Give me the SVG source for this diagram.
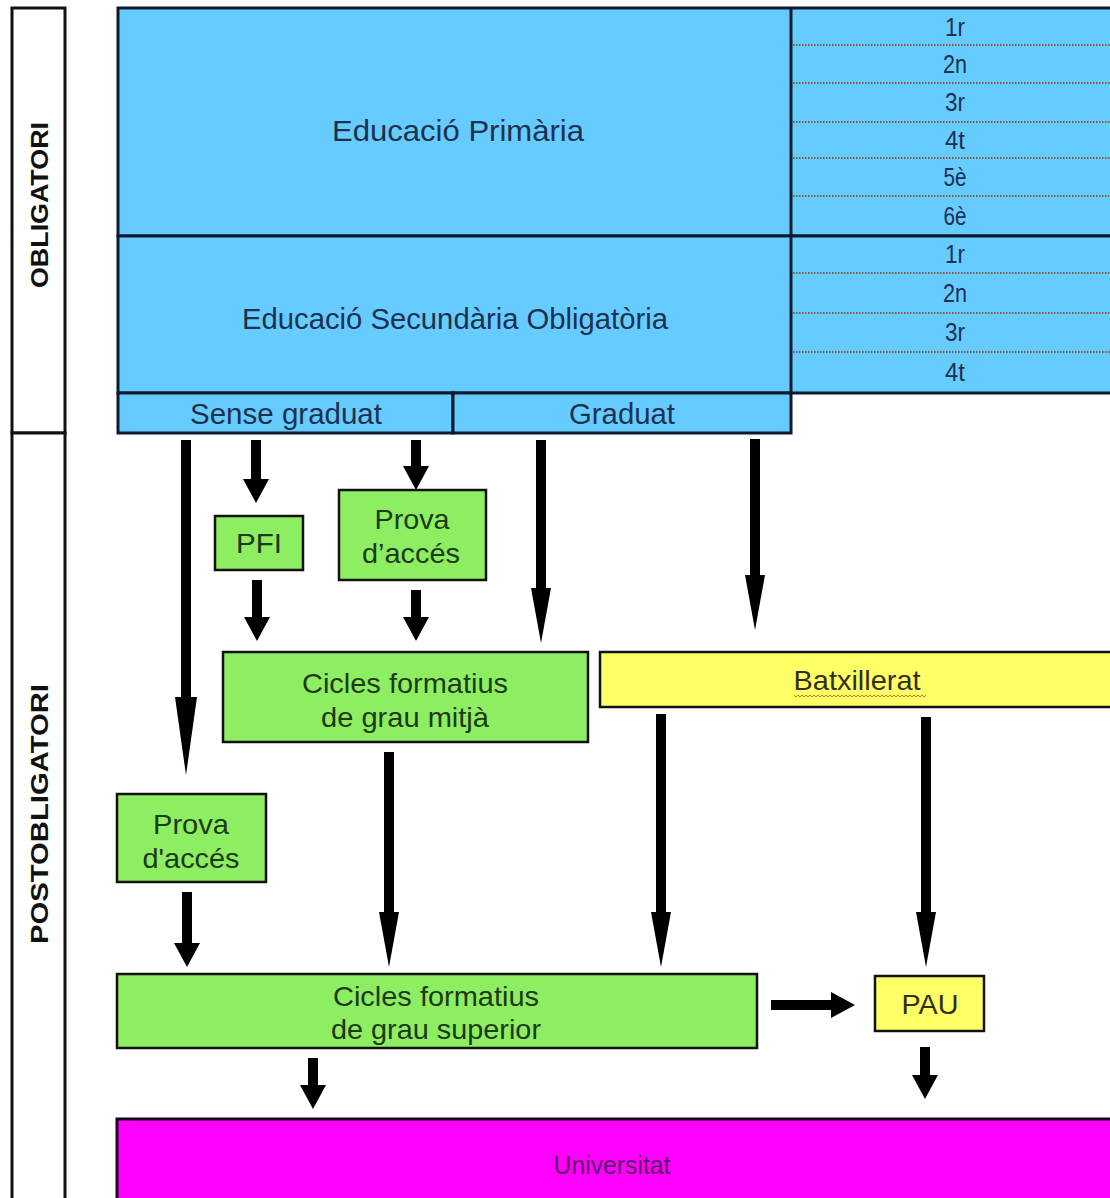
<svg xmlns="http://www.w3.org/2000/svg" width="1110" height="1198" viewBox="0 0 1110 1198">
<defs>
<style>
text{font-family:"Liberation Sans",Arial,sans-serif;text-anchor:middle;}
.side{fill:#ffffff;stroke:#111;stroke-width:3;}
.sidet{font-size:24px;font-weight:bold;fill:#111;}
.blue{fill:#66CCFF;stroke:#0d1a2e;stroke-width:3;}
.bt{fill:#1c3050;font-size:30px;}
.bs{fill:#1c3050;font-size:29px;}
.yr{fill:#1c3050;font-size:25px;}
.dot{stroke:#8a5a40;stroke-width:2;stroke-dasharray:1.5 1.5;fill:none;}
.green{fill:#8EEE62;stroke:#111;stroke-width:2.5;}
.gt{fill:#1d3a16;font-size:28px;}
.yellow{fill:#FFFF66;stroke:#111;stroke-width:2.5;}
.yt{fill:#33300c;font-size:28px;}
.mag{fill:#FF00FF;stroke:#1a0520;stroke-width:3;}
.mt{fill:#5a1a6a;font-size:25px;}
.ar{stroke:#000;stroke-width:10;fill:none;}
</style>
<marker id="hs" viewBox="0 0 24 26" refX="0" refY="13" markerWidth="24" markerHeight="26" markerUnits="userSpaceOnUse" orient="auto"><path d="M0,0 L24,13 L0,26 Z" fill="#000"/></marker>
<marker id="hl" viewBox="0 0 55 20" refX="0" refY="10" markerWidth="55" markerHeight="20" markerUnits="userSpaceOnUse" orient="auto"><path d="M0,0 L55,10 L0,20 Z" fill="#000"/></marker>
<marker id="hx" viewBox="0 0 78 22" refX="0" refY="11" markerWidth="78" markerHeight="22" markerUnits="userSpaceOnUse" orient="auto"><path d="M0,0 L78,11 L0,22 Z" fill="#000"/></marker>
</defs>
<rect width="1110" height="1198" fill="#ffffff"/>

<g id="obligatori">
<rect class="side" x="12" y="8" width="53" height="425"/>
<text class="sidet" transform="translate(48,205) rotate(-90)" textLength="166" lengthAdjust="spacingAndGlyphs">OBLIGATORI</text>
</g>
<g id="postobligatori">
<rect class="side" x="12" y="433" width="53" height="780"/>
<text class="sidet" transform="translate(48,814) rotate(-90)" textLength="260" lengthAdjust="spacingAndGlyphs">POSTOBLIGATORI</text>
</g>

<g id="primaria">
<rect class="blue" x="118" y="8" width="1010" height="228"/>
<line x1="791" y1="8" x2="791" y2="236" stroke="#0d1a2e" stroke-width="3"/>
<text class="bt" x="458" y="141" textLength="252" lengthAdjust="spacingAndGlyphs">Educació Primària</text>
<line class="dot" x1="793" y1="45" x2="1110" y2="45"/>
<line class="dot" x1="793" y1="83" x2="1110" y2="83"/>
<line class="dot" x1="793" y1="122" x2="1110" y2="122"/>
<line class="dot" x1="793" y1="158" x2="1110" y2="158"/>
<line class="dot" x1="793" y1="196" x2="1110" y2="196"/>
<text class="yr" x="955" y="36" textLength="20" lengthAdjust="spacingAndGlyphs">1r</text>
<text class="yr" x="955" y="73" textLength="24" lengthAdjust="spacingAndGlyphs">2n</text>
<text class="yr" x="955" y="111" textLength="20" lengthAdjust="spacingAndGlyphs">3r</text>
<text class="yr" x="955" y="149" textLength="20" lengthAdjust="spacingAndGlyphs">4t</text>
<text class="yr" x="955" y="186" textLength="23" lengthAdjust="spacingAndGlyphs">5è</text>
<text class="yr" x="955" y="225" textLength="23" lengthAdjust="spacingAndGlyphs">6è</text>
</g>

<g id="eso">
<rect class="blue" x="118" y="236" width="1010" height="157"/>
<line x1="791" y1="236" x2="791" y2="393" stroke="#0d1a2e" stroke-width="3"/>
<text class="bt" x="455" y="329" textLength="426" lengthAdjust="spacingAndGlyphs">Educació Secundària Obligatòria</text>
<line class="dot" x1="793" y1="273" x2="1110" y2="273"/>
<line class="dot" x1="793" y1="313" x2="1110" y2="313"/>
<line class="dot" x1="793" y1="352" x2="1110" y2="352"/>
<text class="yr" x="955" y="263" textLength="20" lengthAdjust="spacingAndGlyphs">1r</text>
<text class="yr" x="955" y="302" textLength="24" lengthAdjust="spacingAndGlyphs">2n</text>
<text class="yr" x="955" y="341" textLength="20" lengthAdjust="spacingAndGlyphs">3r</text>
<text class="yr" x="955" y="381" textLength="20" lengthAdjust="spacingAndGlyphs">4t</text>
</g>

<g id="sense-graduat">
<rect class="blue" x="118" y="393" width="335" height="40"/>
<text class="bs" x="286" y="424" textLength="192" lengthAdjust="spacingAndGlyphs">Sense graduat</text>
</g>
<g id="graduat">
<rect class="blue" x="453" y="393" width="338" height="40"/>
<text class="bs" x="622" y="424" textLength="106" lengthAdjust="spacingAndGlyphs">Graduat</text>
</g>

<g id="pfi">
<rect class="green" x="215" y="516" width="88" height="54"/>
<text class="gt" x="259" y="553" textLength="46" lengthAdjust="spacingAndGlyphs">PFI</text>
</g>
<g id="prova1">
<rect class="green" x="339" y="490" width="147" height="90"/>
<text class="gt" x="412" y="529" textLength="75" lengthAdjust="spacingAndGlyphs">Prova</text>
<text class="gt" x="411" y="563" textLength="98" lengthAdjust="spacingAndGlyphs">d’accés</text>
</g>
<g id="cicles-mitja">
<rect class="green" x="223" y="652" width="365" height="90"/>
<text class="gt" x="405" y="693" textLength="206" lengthAdjust="spacingAndGlyphs">Cicles formatius</text>
<text class="gt" x="405" y="727" textLength="168" lengthAdjust="spacingAndGlyphs">de grau mitjà</text>
</g>
<g id="batxillerat">
<rect class="yellow" x="600" y="652" width="530" height="55"/>
<text class="yt" x="857" y="690" textLength="127" lengthAdjust="spacingAndGlyphs">Batxillerat</text>
<path d="M794,695 l2,2 l2,-2 l2,2 l2,-2 l2,2 l2,-2 l2,2 l2,-2 l2,2 l2,-2 l2,2 l2,-2 l2,2 l2,-2 l2,2 l2,-2 l2,2 l2,-2 l2,2 l2,-2 l2,2 l2,-2 l2,2 l2,-2 l2,2 l2,-2 l2,2 l2,-2 l2,2 l2,-2 l2,2 l2,-2 l2,2 l2,-2 l2,2 l2,-2 l2,2 l2,-2 l2,2 l2,-2 l2,2 l2,-2 l2,2 l2,-2 l2,2 l2,-2 l2,2 l2,-2 l2,2 l2,-2 l2,2 l2,-2 l2,2 l2,-2 l2,2 l2,-2 l2,2 l2,-2 l2,2 l2,-2 l2,2 l2,-2 l2,2 l2,-2 l2,2 l2,-2" fill="none" stroke="#e07020" stroke-width="1"/>
</g>
<g id="prova2">
<rect class="green" x="117" y="794" width="149" height="88"/>
<text class="gt" x="191" y="834" textLength="76" lengthAdjust="spacingAndGlyphs">Prova</text>
<text class="gt" x="191" y="868" textLength="97" lengthAdjust="spacingAndGlyphs">d'accés</text>
</g>
<g id="cicles-superior">
<rect class="green" x="117" y="974" width="640" height="74"/>
<text class="gt" x="436" y="1006" textLength="206" lengthAdjust="spacingAndGlyphs">Cicles formatius</text>
<text class="gt" x="436" y="1039" textLength="210" lengthAdjust="spacingAndGlyphs">de grau superior</text>
</g>
<g id="pau">
<rect class="yellow" x="875" y="976" width="109" height="55"/>
<text class="yt" x="930" y="1014" textLength="57" lengthAdjust="spacingAndGlyphs">PAU</text>
</g>
<g id="universitat">
<rect class="mag" x="117" y="1119" width="1010" height="100"/>
<text class="mt" x="612" y="1174" textLength="117" lengthAdjust="spacingAndGlyphs">Universitat</text>
</g>

<g id="connectors">
<line class="ar" x1="186" y1="440" x2="186" y2="697" marker-end="url(#hx)"/>
<line class="ar" x1="256" y1="440" x2="256" y2="479" marker-end="url(#hs)"/>
<line class="ar" x1="416" y1="440" x2="416" y2="466" marker-end="url(#hs)"/>
<line class="ar" x1="541" y1="440" x2="541" y2="588" marker-end="url(#hl)"/>
<line class="ar" x1="755" y1="439" x2="755" y2="575" marker-end="url(#hl)"/>
<line class="ar" x1="257" y1="580" x2="257" y2="617" marker-end="url(#hs)"/>
<line class="ar" x1="416" y1="590" x2="416" y2="617" marker-end="url(#hs)"/>
<line class="ar" x1="389" y1="752" x2="389" y2="912" marker-end="url(#hl)"/>
<line class="ar" x1="661" y1="714" x2="661" y2="912" marker-end="url(#hl)"/>
<line class="ar" x1="926" y1="717" x2="926" y2="912" marker-end="url(#hl)"/>
<line class="ar" x1="187" y1="892" x2="187" y2="943" marker-end="url(#hs)"/>
<line class="ar" x1="771" y1="1005" x2="831" y2="1005" marker-end="url(#hs)"/>
<line class="ar" x1="313" y1="1058" x2="313" y2="1085" marker-end="url(#hs)"/>
<line class="ar" x1="925" y1="1047" x2="925" y2="1075" marker-end="url(#hs)"/>
</g>
</svg>
